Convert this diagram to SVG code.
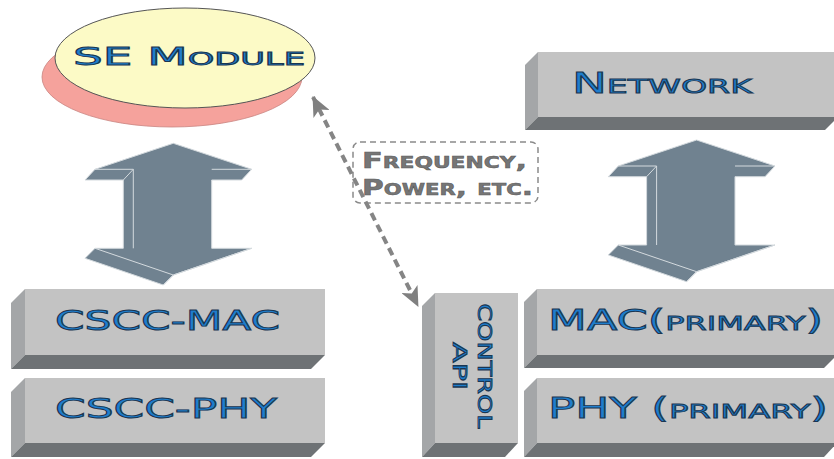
<svg xmlns="http://www.w3.org/2000/svg" width="834" height="459" viewBox="0 0 834 459">
  <defs>
    <style>
      .front { fill: #c3c3c3; }
      .side { fill: #a4a6a8; }
      .base { fill: #6e7275; }
      .lbl { font-family: "DejaVu Sans", "Liberation Sans", sans-serif; font-weight: normal; fill: #1f7dcc; stroke: #1a3652; stroke-width: 0.9; }
      .sc { font-variant: small-caps; }
      .note { font-family: "DejaVu Sans", "Liberation Sans", sans-serif; font-weight: bold; font-variant: small-caps; fill: #767676; stroke: #5a5a5a; stroke-width: 0.5; }
      .blk { fill: #708290; stroke: #d4dade; stroke-width: 1; stroke-linejoin: round; }
      .blkline { fill: none; stroke: #d4dade; stroke-width: 1; }
    </style>
    <marker id="tip" viewBox="0 0 20 18" refX="19" refY="9" markerWidth="20" markerHeight="18" markerUnits="userSpaceOnUse" orient="auto-start-reverse">
      <path d="M0,0 L20,9 L0,18 L5,9 Z" fill="#808080"/>
    </marker>
    <!-- double-headed 3D block arrow -->
    <g id="blockArrow">
      <path class="blk" d="M173.3,143.3 L251.7,169.3 L241.7,180 L211.7,180 L211.7,248.3 L251.7,248.3 L173.3,275 L163.3,285 L85,258.3 L95,248.3 L123.3,248.3 L123.3,180 L85,180 L95,169.3 Z"/>
      <path class="blkline" d="M95,169.3 L133.3,169.3 L123.3,180 M133.3,169.3 L133.3,248.3 M211.7,169.3 L251.7,169.3 M95,248.3 L173.3,275 L251.7,248.3 M173.3,275 L163.3,285"/>
    </g>
  </defs>

  <rect width="834" height="459" fill="#ffffff"/>

  <!-- SE module -->
  <g id="se-module">
    <ellipse cx="172" cy="77" rx="130" ry="50" fill="#f5a29c" stroke="#c98480" stroke-width="0.8"/>
    <ellipse cx="185" cy="58" rx="130" ry="50" fill="#fcfac6" stroke="#555" stroke-width="1"/>
    <text class="lbl sc" x="73" y="65" font-size="25" textLength="232" lengthAdjust="spacingAndGlyphs">SE Module</text>
  </g>

  <!-- Network layer -->
  <g id="network">
    <polygon class="side" points="538,52 525,65 525,130 538,117"/>
    <polygon class="base" points="538,117 838,117 825,130 525,130"/>
    <rect class="front" x="538" y="52" width="300" height="65"/>
    <text class="lbl sc" x="572" y="93" font-size="28" textLength="180" lengthAdjust="spacingAndGlyphs">Network</text>
  </g>

  <!-- CSCC MAC -->
  <g id="cscc-mac">
    <polygon class="side" points="25,289 11,303 11,369 25,355"/>
    <polygon class="base" points="25,355 325,355 311,369 11,369"/>
    <rect class="front" x="25" y="289" width="300" height="66"/>
    <text class="lbl" x="55" y="330" font-size="27" textLength="225" lengthAdjust="spacingAndGlyphs">CSCC-MAC</text>
  </g>

  <!-- CSCC PHY -->
  <g id="cscc-phy">
    <polygon class="side" points="25,378 11,392 11,457 25,443"/>
    <polygon class="base" points="25,443 325,443 311,457 11,457"/>
    <rect class="front" x="25" y="378" width="300" height="65"/>
    <text class="lbl" x="55" y="418" font-size="27" textLength="222" lengthAdjust="spacingAndGlyphs">CSCC-PHY</text>
  </g>

  <!-- Control API -->
  <g id="control-api">
    <polygon class="side" points="435,293 422,306 422,457 435,443"/>
    <polygon class="base" points="435,443 518,443 505,457 422,457"/>
    <rect class="front" x="435" y="293" width="83" height="150"/>
    <text class="lbl" transform="translate(478,366) rotate(90)" x="0" y="0" font-size="19" text-anchor="middle" textLength="125" lengthAdjust="spacingAndGlyphs">CONTROL</text>
    <text class="lbl" transform="translate(453,366) rotate(90)" x="0" y="0" font-size="19" text-anchor="middle" textLength="48" lengthAdjust="spacingAndGlyphs">API</text>
  </g>

  <!-- Primary MAC -->
  <g id="mac-primary">
    <polygon class="side" points="537,289 524,302 524,368 537,355"/>
    <polygon class="base" points="537,355 837,355 824,368 524,368"/>
    <rect class="front" x="537" y="289" width="300" height="66"/>
    <text class="lbl sc" x="548" y="330" font-size="28" textLength="275" lengthAdjust="spacingAndGlyphs">MAC(primary)</text>
  </g>

  <!-- Primary PHY -->
  <g id="phy-primary">
    <polygon class="side" points="537,378 524,391 524,457 537,443"/>
    <polygon class="base" points="537,443 837,443 824,457 524,457"/>
    <rect class="front" x="537" y="378" width="300" height="65"/>
    <text class="lbl sc" x="548" y="418" font-size="28" textLength="280" lengthAdjust="spacingAndGlyphs">PHY (primary)</text>
  </g>

  <!-- Parameter label -->
  <g id="params">
    <rect x="353" y="142" width="185" height="61" rx="7" fill="none" stroke="#8a8a8a" stroke-width="1.5" stroke-dasharray="6,4"/>
    <text class="note" x="362" y="168" font-size="21" textLength="165" lengthAdjust="spacingAndGlyphs">Frequency,</text>
    <text class="note" x="362" y="195" font-size="21" textLength="171" lengthAdjust="spacingAndGlyphs">Power, etc.</text>
  </g>

  <!-- Connectors -->
  <g id="connectors">
    <use href="#blockArrow"/>
    <use href="#blockArrow" transform="translate(523.3,-3.3)"/>
    <line x1="313" y1="97" x2="418" y2="306" stroke="#858585" stroke-width="4" stroke-dasharray="8,5" marker-start="url(#tip)" marker-end="url(#tip)"/>
  </g>
</svg>
